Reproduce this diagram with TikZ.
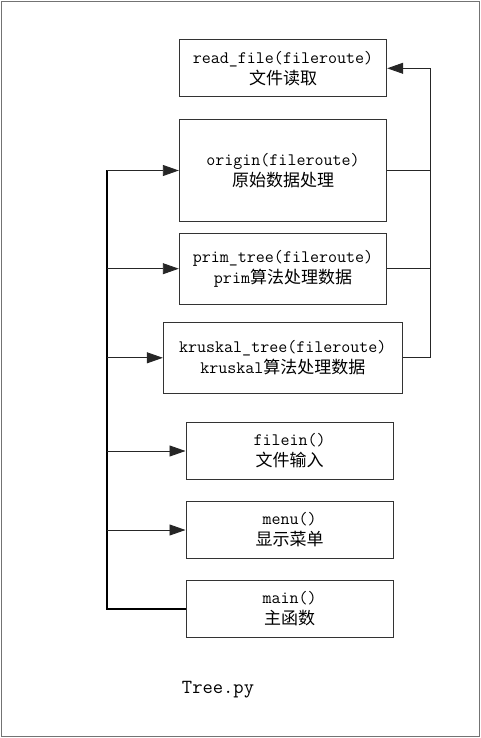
\documentclass[tikz,border=0pt]{standalone}
\usepackage{fontspec}
\newfontfamily\cjk{Noto Sans CJK SC}
\usetikzlibrary{arrows.meta}
\newcommand{\zh}[1]{{\cjk\fontsize{17}{21}\selectfont #1}}
\begin{document}
\begin{tikzpicture}[x=1pt,y=-1pt,
  fbox/.style={draw=black!80,line width=0.9pt,inner sep=0pt,align=center,
    font=\ttfamily\fontsize{17.5}{21}\selectfont,minimum width=207.5pt},
  conn/.style={line width=0.9pt,black!85},
  arr/.style={conn,-{Triangle[length=16pt,width=11pt]}},
  bus/.style={line width=1.6pt,black}]
\useasboundingbox (0,0) rectangle (481,738);
\draw[black!55,line width=0.9pt] (1.5,1.5) rectangle (479.5,736.5);
\node[fbox,minimum height=56.7pt] (rf) at (283,68.3) {read\_file(fileroute)\\\zh{文件读取}};
\node[fbox,minimum height=102.4pt] (or) at (283,170.5) {origin(fileroute)\\\zh{原始数据处理}};
\node[fbox,minimum height=70.7pt] (pr) at (283,268.7) {prim\_tree(fileroute)\\prim\zh{算法处理数据}};
\node[fbox,minimum width=239pt,minimum height=71pt] (kr) at (282.8,357.8) {kruskal\_tree(fileroute)\\kruskal\zh{算法处理数据}};
\node[fbox,minimum height=56.6pt] (fi) at (289.7,451) {filein()\\\zh{文件输入}};
\node[fbox,minimum height=56.6pt] (me) at (289.7,530) {menu()\\\zh{显示菜单}};
\node[fbox,minimum height=56.6pt] (ma) at (289.7,609) {main()\\\zh{主函数}};
\node[font=\ttfamily\fontsize{20}{22}\selectfont] (tp) at (218,690) {Tree.py};
% left bus
\coordinate (bx) at (106.7,0);
\draw[bus] (ma.west) -- (bx |- ma.west) -- (bx |- or.west);
\draw[arr] (bx |- or.west) -- (or.west);
\draw[arr] (bx |- pr.west) -- (pr.west);
\draw[arr] (bx |- kr.west) -- (kr.west);
\draw[arr] (bx |- fi.west) -- (fi.west);
\draw[arr] (bx |- me.west) -- (me.west);
% right bus
\coordinate (rx) at (430,0);
\draw[conn] (or.east) -- (rx |- or.east);
\draw[conn] (pr.east) -- (rx |- pr.east);
\draw[conn] (kr.east) -- (rx |- kr.east) -- (rx |- rf.east);
\draw[arr] (rx |- rf.east) -- (rf.east);
\end{tikzpicture}
\end{document}
